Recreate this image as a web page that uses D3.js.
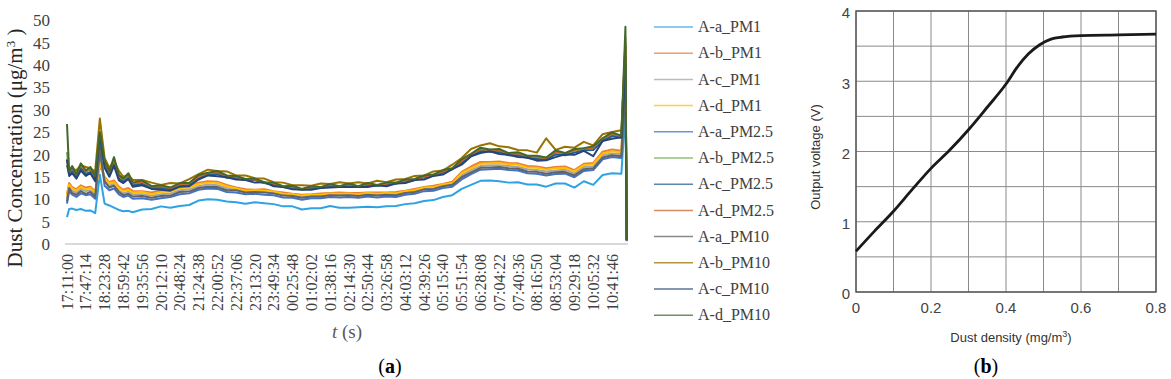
<!DOCTYPE html>
<html>
<head>
<meta charset="utf-8">
<script src="https://cdn.jsdelivr.net/npm/d3@7"></script>
<style>
  body { margin: 0; background: #fff; }
  svg { display: block; }
</style>
</head>
<body>
<svg id="chart"></svg>
<script>
// ---- panel (a): dust concentration over time ----
// sample times in seconds after 17:11:00
const sampleTimes = [0, 250, 600, 1087, 1600, 2174, 2700, 3261, 3800, 4348, 4900, 5435, 6000, 6522, 7100, 7609,
  8696, 9783, 10870, 11957, 13044, 14131, 15218, 16305, 17392, 18479, 19566, 20653, 21740, 22827, 23914, 25001,
  26088, 27175, 28262, 29349, 30436, 31523, 32610, 33697, 34784, 35871, 36958, 38045, 39132, 40219, 41306, 42393,
  43480, 44567, 45654, 46741, 47828, 48915, 50002, 51089, 52176, 53263, 54350, 55437, 56524, 57611, 58698, 59785,
  60872, 61959, 63046, 64133, 64600, 64750]

const timeLabels = ['17:11:00', '17:47:14', '18:23:28', '18:59:42', '19:35:56', '20:12:10', '20:48:24', '21:24:38',
  '22:00:52', '22:37:06', '23:13:20', '23:49:34', '00:25:48', '01:02:02', '01:38:16', '02:14:30', '02:50:44',
  '03:26:58', '04:03:12', '04:39:26', '05:15:40', '05:51:54', '06:28:08', '07:04:22', '07:40:36', '08:16:50',
  '08:53:04', '09:29:18', '10:05:32', '10:41:46']
const labelStep = 2174
const concTicks = [0, 5, 10, 15, 20, 25, 30, 35, 40, 45, 50]

const seriesNames = ['A-a_PM1', 'A-b_PM1', 'A-c_PM1', 'A-d_PM1', 'A-a_PM2.5', 'A-b_PM2.5', 'A-c_PM2.5', 'A-d_PM2.5',
  'A-a_PM10', 'A-b_PM10', 'A-c_PM10', 'A-d_PM10']
const seriesColors = ['#2fa2e2', '#ed7d31', '#a5a5a5', '#ffc000', '#4472c4', '#70ad47', '#255e91', '#d0642a',
  '#636363', '#997300', '#264478', '#43682b']

const aPM1 = [6.0, 7.8, 7.9, 7.6, 7.8, 7.4, 7.5, 6.9, 15.5, 9.0, 8.6, 8.1, 7.6, 7.3, 7.4, 7.1,
  7.7, 7.8, 8.4, 8.1, 8.5, 8.7, 9.7, 10.0, 9.9, 9.5, 9.3, 9.0, 9.3, 9.1, 8.9, 8.4, 8.4, 7.7, 8.0, 8.0,
  8.5, 8.1, 8.1, 8.2, 8.3, 8.2, 8.4, 8.5, 8.9, 9.1, 9.6, 9.8, 10.5, 10.9, 12.3, 13.2, 14.1, 14.2, 14.0, 13.7,
  13.8, 13.3, 13.3, 12.8, 13.5, 13.5, 12.6, 14.0, 13.2, 15.4, 15.8, 15.7, 30.0, 0.6]
const bPM1 = [11.2, 13.6, 12.7, 12.2, 13.1, 12.6, 12.8, 11.8, 17.5, 15.0, 13.8, 14.2, 12.8, 12.1, 12.5, 11.8,
  11.8, 11.5, 11.9, 12.0, 12.8, 12.9, 13.7, 14.0, 13.9, 13.2,
  12.6, 12.2, 12.1, 12.2, 11.8, 11.5, 11.2, 11.0, 11.1, 11.3, 11.4, 11.5, 11.4, 11.4, 11.5, 11.5, 11.5, 11.6,
  11.9, 12.3, 12.7, 13.0, 13.4, 13.9,
  16.1, 17.3, 18.3, 18.3, 18.4, 18.1, 18.0, 17.4, 17.3, 16.9, 17.2, 17.3, 16.5, 17.9, 18.1, 20.6, 21.1, 20.8, 41.0, 1.1]
const cPM1 = [10.2, 12.9, 11.9, 11.5, 12.3, 11.8, 12.0, 11.0, 19.5, 14.3, 13.0, 13.4, 12.0, 11.3, 11.7, 11.1,
  11.1, 10.8, 11.1, 11.3, 12.0, 12.2, 12.9, 13.3, 13.1, 12.5,
  12.2, 11.7, 11.8, 11.7, 11.5, 11.0, 10.9, 10.5, 10.8, 10.8, 11.1, 11.0, 11.1, 10.9, 11.2, 11.0, 11.2, 11.1,
  11.6, 11.8, 12.4, 12.5, 13.1, 13.4,
  15.3, 16.5, 17.4, 17.6, 17.6, 17.4, 17.2, 16.7, 16.5, 16.2, 16.4, 16.6, 15.8, 17.2, 17.3, 19.8, 20.2, 20.1, 39.0, 0.9]
const dPM1 = [10.8, 13.2, 12.4, 11.9, 12.8, 12.2, 12.5, 11.5, 18.0, 14.7, 13.5, 13.8, 12.5, 11.8, 12.1, 11.5,
  11.6, 11.1, 11.6, 11.7, 12.5, 12.6, 13.4, 13.7, 13.6, 12.9,
  12.4, 11.9, 12.0, 11.9, 11.7, 11.2, 11.1, 10.8, 11.0, 11.0, 11.3, 11.2, 11.3, 11.1, 11.4, 11.2, 11.4, 11.3,
  11.8, 12.0, 12.6, 12.7, 13.3, 13.6,
  15.8, 16.9, 17.9, 18.0, 18.1, 17.8, 17.7, 17.1, 17.0, 16.6, 16.9, 17.0, 16.2, 17.6, 17.8, 20.2, 20.7, 20.5, 40.0, 1.0]
const aPM25 = [9.0, 11.8, 11.0, 10.5, 11.3, 10.9, 11.1, 10.1, 21.5, 13.0, 12.0, 12.4, 11.1, 10.5, 10.8, 10.1,
  10.2, 9.9, 10.2, 10.5, 11.1, 11.3, 12.1, 12.4, 12.3, 11.6, 11.5, 11.1, 11.2, 11.0, 10.9, 10.4, 10.3, 9.9, 10.2,
  10.2, 10.5, 10.4, 10.5, 10.3, 10.6, 10.4, 10.6, 10.5, 11.0, 11.2, 11.8, 11.9, 12.5, 12.8, 14.4, 15.6, 16.6, 16.7,
  16.8, 16.5, 16.4, 15.8, 15.7, 15.3, 15.6, 15.7, 14.9, 16.3, 16.5, 18.9, 19.4, 19.2, 36.0, 0.7]
const bPM25 = [20.5, 15.8, 17.0, 15.3, 17.5, 16.0, 16.8, 14.8, 23.8, 18.0, 15.8, 18.8, 15.0, 14.3, 15.3, 13.4,
  13.8, 12.7, 12.8, 12.4, 13.2, 13.4, 15.0, 15.6, 15.9, 15.1, 14.8, 14.3, 14.3, 13.6, 13.3, 12.7, 12.6, 12.1, 12.5,
  12.5, 13.0, 12.7, 13.1, 12.7, 13.2, 13.0, 13.3, 13.5, 13.9, 14.3, 14.9, 15.3, 16.0, 16.7, 18.4, 19.9, 21.0, 20.9,
  20.8, 20.1, 20.1, 19.5, 19.3, 19.1, 20.4, 20.1, 20.8, 21.2, 21.4, 23.3, 24.5, 24.0, 46.0, 1.1]
const cPM25 = [17.6, 15.5, 16.3, 15.1, 16.9, 15.6, 16.1, 14.5, 22.5, 17.6, 15.3, 18.0, 14.6, 13.9, 14.8, 13.1,
  13.4, 12.5, 12.5, 12.2, 12.9, 13.1, 14.6, 15.4, 15.6, 14.8,
  14.8, 14.3, 14.3, 13.6, 13.3, 12.7, 12.6, 12.2, 12.5, 12.5, 13.0, 12.7, 13.1, 12.7, 13.2, 13.0, 13.3, 13.5,
  13.9, 14.3, 14.9, 15.3, 16.0, 16.7,
  18.1, 19.6, 20.7, 20.6, 20.5, 19.8, 19.8, 19.2, 19.0, 18.8, 20.0, 19.8, 20.4, 20.9, 21.0, 23.0, 24.1, 23.7, 42.0, 0.8]
const dPM25 = [19.0, 16.0, 17.1, 15.5, 17.7, 16.2, 16.9, 15.0, 24.0, 18.3, 16.0, 19.0, 15.2, 14.4, 15.5, 13.5,
  13.9, 12.8, 12.9, 12.5, 13.4, 13.5, 15.1, 15.8, 16.0, 15.2, 15.0, 14.4, 14.4, 13.7, 13.5, 12.8, 12.8, 12.2, 12.7,
  12.6, 13.2, 12.8, 13.3, 12.8, 13.4, 13.1, 13.5, 13.6, 14.1, 14.4, 15.0, 15.4, 16.2, 16.8, 18.6, 20.0, 21.2, 21.0,
  20.9, 20.2, 20.2, 19.6, 19.4, 19.2, 20.6, 20.2, 21.0, 21.3, 21.5, 23.5, 24.6, 24.1, 45.0, 1.0]
const aPM10 = [9.5, 12.5, 11.4, 11.0, 11.8, 11.2, 11.6, 10.6, 21.0, 14.0, 12.6, 13.0, 11.6, 10.9, 11.2, 10.6,
  10.7, 10.3, 10.7, 10.8, 11.6, 11.7, 12.5, 12.8, 12.7, 12.0, 12.0, 11.5, 11.6, 11.5, 11.3, 10.8, 10.7, 10.3, 10.6,
  10.6, 10.9, 10.8, 10.9, 10.7, 11.0, 10.8, 11.0, 10.9, 11.4, 11.6, 12.2, 12.3, 12.9, 13.2, 14.9, 16.0, 17.0, 17.1,
  17.2, 16.9, 16.8, 16.2, 16.1, 15.7, 16.0, 16.1, 15.3, 16.7, 16.9, 19.3, 19.8, 19.6, 38.0, 0.8]
const bPM10 = [17.5, 16.9, 16.8, 16.5, 17.6, 17.2, 16.9, 16.2, 28.0, 19.2, 17.0, 18.6, 16.3, 15.0, 15.4, 14.3,
  14.3, 13.7, 13.2, 13.6, 13.5, 14.5, 15.6, 16.6, 16.3, 16.2, 15.3, 15.3, 14.7, 14.6, 13.8, 13.7, 13.1, 13.1, 13.0,
  13.5, 13.4, 13.8, 13.5, 13.8, 13.5, 14.1, 13.8, 14.4, 14.5, 15.2, 15.3, 16.2, 16.4, 17.7, 19.2, 21.2, 22.0, 22.5,
  21.8, 21.6, 21.0, 20.9, 20.4, 23.6, 21.0, 21.7, 21.5, 22.8, 22.0, 24.5, 25.0, 25.4, 44.0, 1.2]
const cPM10 = [18.8, 15.2, 15.8, 14.6, 16.4, 15.2, 15.8, 14.0, 24.6, 17.0, 15.0, 17.5, 14.2, 13.6, 14.5, 12.8,
  13.1, 12.3, 12.1, 11.9, 12.8, 12.9, 14.4, 15.3, 15.1, 14.9,
  14.4, 14.3, 13.7, 13.8, 12.9, 12.7, 12.2, 12.1, 12.1, 12.5, 12.6, 12.7, 12.7, 12.7, 12.7, 13.1, 12.9, 13.5,
  13.6, 14.3, 14.4, 15.2, 15.5, 16.7,
  17.7, 19.6, 20.3, 20.7, 20.1, 19.9, 19.4, 19.3, 18.6, 18.7, 19.4, 20.0, 19.9, 20.8, 19.6, 23.0, 23.5, 23.8, 40.0, 0.9]
const dPM10 = [26.8, 16.2, 17.4, 15.6, 18.0, 16.4, 17.2, 15.2, 25.0, 18.6, 16.2, 19.4, 15.4, 14.6, 15.8, 13.7,
  14.2, 12.9, 13.1, 12.6, 13.6, 13.6, 15.4, 15.9, 16.3, 15.3, 15.2, 14.5, 14.6, 13.8, 13.7, 12.9, 13.0, 12.3, 12.9,
  12.7, 13.4, 12.9, 13.5, 12.9, 13.6, 13.2, 13.7, 13.7, 14.4, 14.5, 15.3, 15.5, 16.5, 16.9, 18.9, 20.1, 21.5, 21.1,
  21.2, 20.3, 20.5, 19.7, 19.7, 19.3, 20.9, 20.3, 21.2, 21.4, 21.8, 23.6, 24.9, 24.2, 48.5, 1.0]

const seriesValues = [aPM1, bPM1, cPM1, dPM1, aPM25, bPM25, cPM25, dPM25, aPM10, bPM10, cPM10, dPM10]

// ---- panel (b): sensor output curve ----
const density = [0, 0.05, 0.1, 0.15, 0.2, 0.25, 0.3, 0.35, 0.4, 0.43, 0.46, 0.49, 0.52, 0.55, 0.6, 0.7, 0.8]
const voltage = [0.58, 0.87, 1.15, 1.46, 1.76, 2.02, 2.31, 2.63, 2.96, 3.2, 3.39, 3.52, 3.6, 3.63, 3.65, 3.66, 3.67]
const densityTicks = [0, 0.2, 0.4, 0.6, 0.8]
const voltageTicks = [0, 1, 2, 3, 4]

const width = 1171
const height = 379
const serif = '"Liberation Serif", "Times New Roman", serif'
const sans = '"Liberation Sans", Arial, sans-serif'

const svg = d3.select('#chart')
    .attr('width', width)
    .attr('height', height)

// ===== panel (a) =====
const xScale = d3.scaleLinear()
                    .domain([0, labelStep * (timeLabels.length - 1)])
                    .range([67, 612])
const yScale = d3.scaleLinear()
                    .domain([0, 50])
                    .range([244, 20])

const panelA = svg.append('g')

// baseline
panelA.append('line')
    .attr('x1', 65)
    .attr('x2', 628)
    .attr('y1', yScale(0))
    .attr('y2', yScale(0))
    .attr('stroke', '#d9d9d9')
    .attr('stroke-width', 2)

// y tick labels
panelA.selectAll('.ytick')
    .data(concTicks)
    .enter()
    .append('text')
        .attr('x', 50)
        .attr('y', d => yScale(d))
        .attr('dy', '0.36em')
        .attr('text-anchor', 'end')
        .attr('font-family', serif)
        .attr('font-size', '17px')
        .attr('fill', '#404040')
        .text(d => d)

// rotated time labels
panelA.selectAll('.xtick')
    .data(timeLabels)
    .enter()
    .append('text')
        .attr('transform', (d, i) => 'translate(' + xScale(i * labelStep) + ',254) rotate(-90)')
        .attr('dy', '0.35em')
        .attr('text-anchor', 'end')
        .attr('font-family', serif)
        .attr('font-size', '16px')
        .attr('fill', '#404040')
        .text(d => d)

const line = d3.line()
    .x((d, i) => xScale(sampleTimes[i]))
    .y(d => yScale(d))

panelA.selectAll('.series')
    .data(seriesValues)
    .enter()
    .append('path')
        .attr('d', d => line(d))
        .attr('fill', 'none')
        .attr('stroke', (d, i) => seriesColors[i])
        .attr('stroke-width', 2)
        .attr('stroke-linejoin', 'round')

// legend
const legend = panelA.selectAll('.legend')
    .data(seriesNames)
    .enter()
    .append('g')
        .attr('transform', (d, i) => 'translate(654,' + (27 + i * 26.2) + ')')

legend.append('line')
    .attr('x1', 0)
    .attr('x2', 39)
    .attr('stroke', (d, i) => seriesColors[i])
    .attr('stroke-width', 1.5)
    .attr('opacity', 0.75)

legend.append('text')
    .attr('x', 44)
    .attr('dy', '0.33em')
    .attr('font-family', serif)
    .attr('font-size', '16px')
    .attr('fill', '#404040')
    .text(d => d)

// axis titles
const yTitle = panelA.append('text')
    .attr('transform', 'translate(22,148) rotate(-90)')
    .attr('text-anchor', 'middle')
    .attr('font-family', serif)
    .attr('font-size', '21px')
    .attr('fill', '#262626')
yTitle.append('tspan').text('Dust Concentration (μg/m')
yTitle.append('tspan').attr('dy', -7).attr('font-size', '13px').text('3')
yTitle.append('tspan').attr('dy', 7).text(' )')

const xTitle = panelA.append('text')
    .attr('x', 347)
    .attr('y', 338)
    .attr('text-anchor', 'middle')
    .attr('font-family', serif)
    .attr('font-size', '19px')
    .attr('fill', '#595959')
xTitle.append('tspan').attr('font-style', 'italic').text('t')
xTitle.append('tspan').text(' (s)')

const labelA = panelA.append('text')
    .attr('x', 390)
    .attr('y', 373)
    .attr('text-anchor', 'middle')
    .attr('font-family', serif)
    .attr('font-size', '20px')
    .attr('fill', '#000')
labelA.append('tspan').text('(')
labelA.append('tspan').attr('font-weight', 'bold').text('a')
labelA.append('tspan').text(')')

// ===== panel (b) =====
const xScaleB = d3.scaleLinear()
                    .domain([0, 0.8])
                    .range([856, 1156])
const yScaleB = d3.scaleLinear()
                    .domain([0, 4])
                    .range([292, 11])

const panelB = svg.append('g')

panelB.selectAll('.vgrid')
    .data(d3.range(0, 0.81, 0.1))
    .enter()
    .append('line')
        .attr('x1', d => xScaleB(d))
        .attr('x2', d => xScaleB(d))
        .attr('y1', yScaleB(0))
        .attr('y2', yScaleB(4))
        .attr('stroke', '#8a8a8a')
        .attr('stroke-width', 1)

panelB.selectAll('.hgrid')
    .data(d3.range(0, 4.01, 0.5))
    .enter()
    .append('line')
        .attr('x1', xScaleB(0))
        .attr('x2', xScaleB(0.8))
        .attr('y1', d => yScaleB(d))
        .attr('y2', d => yScaleB(d))
        .attr('stroke', '#8a8a8a')
        .attr('stroke-width', 1)

panelB.append('rect')
    .attr('x', xScaleB(0))
    .attr('y', yScaleB(4))
    .attr('width', xScaleB(0.8) - xScaleB(0))
    .attr('height', yScaleB(0) - yScaleB(4))
    .attr('fill', 'none')
    .attr('stroke', '#555')
    .attr('stroke-width', 1.4)

const curve = d3.line()
    .x((d, i) => xScaleB(density[i]))
    .y(d => yScaleB(d))
    .curve(d3.curveMonotoneX)

panelB.append('path')
    .attr('d', curve(voltage))
    .attr('fill', 'none')
    .attr('stroke', '#1a1a1a')
    .attr('stroke-width', 2.8)

panelB.selectAll('.bxtick')
    .data(densityTicks)
    .enter()
    .append('text')
        .attr('x', d => xScaleB(d))
        .attr('y', 313)
        .attr('text-anchor', 'middle')
        .attr('font-family', sans)
        .attr('font-size', '15px')
        .attr('fill', '#444')
        .text(d => d)

panelB.selectAll('.bytick')
    .data(voltageTicks)
    .enter()
    .append('text')
        .attr('x', 850)
        .attr('y', d => yScaleB(d) + 2)
        .attr('dy', '0.35em')
        .attr('text-anchor', 'end')
        .attr('font-family', sans)
        .attr('font-size', '15px')
        .attr('fill', '#444')
        .text(d => d)

const bxTitle = panelB.append('text')
    .attr('x', 1011)
    .attr('y', 342)
    .attr('text-anchor', 'middle')
    .attr('font-family', sans)
    .attr('font-size', '13px')
    .attr('fill', '#333')
bxTitle.append('tspan').text('Dust density (mg/m')
bxTitle.append('tspan').attr('dy', -5).attr('font-size', '9px').text('3')
bxTitle.append('tspan').attr('dy', 5).text(')')

panelB.append('text')
    .attr('transform', 'translate(820,157) rotate(-90)')
    .attr('text-anchor', 'middle')
    .attr('font-family', sans)
    .attr('font-size', '13px')
    .attr('fill', '#333')
    .text('Output voltage (V)')

const labelB = panelB.append('text')
    .attr('x', 986)
    .attr('y', 373)
    .attr('text-anchor', 'middle')
    .attr('font-family', serif)
    .attr('font-size', '20px')
    .attr('fill', '#000')
labelB.append('tspan').text('(')
labelB.append('tspan').attr('font-weight', 'bold').text('b')
labelB.append('tspan').text(')')
</script>
</body>
</html>
